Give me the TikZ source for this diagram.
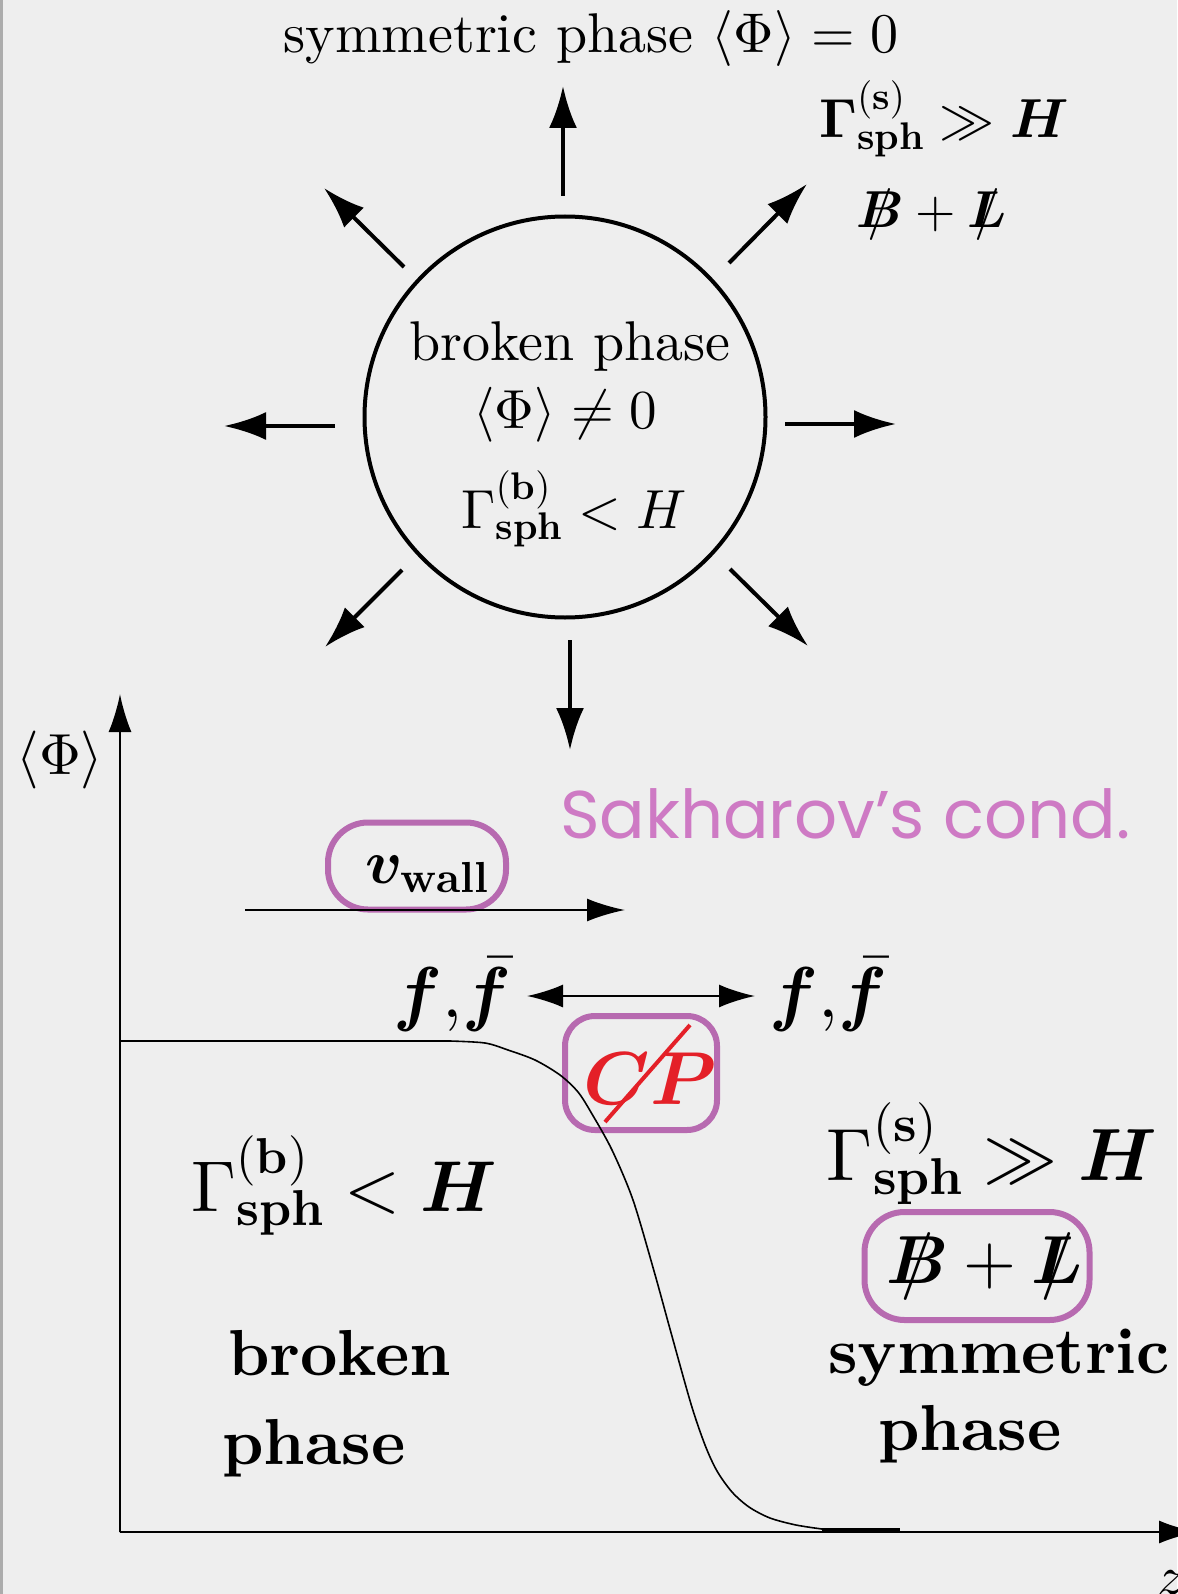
\RequirePackage{fix-cm}
\documentclass[tikz,border=0pt]{standalone}
\usepackage{amsmath,bm}
\usepackage{fontspec}
\setmainfont{lmroman10-regular.otf}[BoldFont=lmroman10-bold.otf, ItalicFont=lmroman10-italic.otf, BoldItalicFont=lmroman10-bolditalic.otf]
\newfontfamily\sakfont{Poppins}
\DeclareFontShape{OT1}{cmr}{m}{n}{<-> cmr10}{}
\DeclareFontShape{OT1}{cmr}{bx}{n}{<-> cmbx10}{}
\DeclareFontShape{OML}{cmm}{m}{it}{<-> cmmi10}{}
\DeclareFontShape{OML}{cmm}{b}{it}{<-> cmmib10}{}
\DeclareFontShape{OMS}{cmsy}{m}{n}{<-> cmsy10}{}
\usetikzlibrary{arrows.meta}
\definecolor{bgc}{RGB}{238,238,238}
\definecolor{pbox}{RGB}{183,106,176}
\definecolor{sakc}{RGB}{206,122,196}
\definecolor{cpred}{RGB}{228,32,40}
\newcommand{\fsz}[1]{\fontsize{#1}{#1}\selectfont}
\newcommand{\slsh}[1]{\mbox{\ooalign{$#1$\cr\hidewidth$/$\hidewidth\cr}}}
\begin{document}
\begin{tikzpicture}[x=1pt,y=-1pt,
  txt/.style={inner sep=0pt, anchor=base},
  bigarr/.style={line width=4pt, -{Latex[length=42pt,width=28pt]}},
  smarr/.style={line width=2.2pt, -{Latex[length=38pt,width=23pt]}},
  dblarr/.style={line width=2.2pt, {Latex[length=36pt,width=23pt]}-{Latex[length=36pt,width=23pt]}},
  pill/.style={draw=pbox, line width=6pt, rounded corners=#1, inner sep=0pt},
]
\useasboundingbox (0,0) rectangle (1177,1594);
\fill[bgc] (0,0) rectangle (1177,1594);
\fill[gray!65] (0,0) rectangle (3,1594);

% ---------- upper part: bubble ----------
\node[txt, font=\fsz{56}] (symtop) at (591,53) {symmetric phase $\langle\Phi\rangle=0$};
\node[txt, font=\fsz{55}] (gamtop) at (944,138) {$\boldsymbol{\Gamma}^{(\mathbf{s})}_{\mathbf{sph}}\gg \bm{H}$};
\node[txt, font=\fsz{52}] (bltop) at (932,228) {$\slsh{\bm{B}}+\slsh{\bm{L}}$};

\node[circle, draw, line width=4pt, minimum size=401pt, inner sep=0pt] (bub) at (565,417) {};
\node[txt, font=\fsz{56}] (bp) at (570,360) {broken phase};
\node[txt, font=\fsz{55}] (phin) at (565,428) {$\langle\Phi\rangle\neq 0$};
\node[txt, font=\fsz{55}] (gamb) at (574,528) {$\Gamma^{(\mathbf{b})}_{\mathbf{sph}}< H$};

\coordinate (sU) at (563,196);  \coordinate (tU) at (563,86);
\coordinate (sUL) at (404,267); \coordinate (tUL) at (324,188);
\coordinate (sUR) at (729,263); \coordinate (tUR) at (807,184);
\coordinate (sL) at (335,426);  \coordinate (tL) at (224,426);
\coordinate (sR) at (785,424);  \coordinate (tR) at (896,424);
\coordinate (sLL) at (402,570); \coordinate (tLL) at (325,647);
\coordinate (sLR) at (730,569); \coordinate (tLR) at (808,646);
\coordinate (sD) at (570,640);  \coordinate (tD) at (570,750);
\foreach \a in {U,UL,UR,L,R,LL,LR,D}{\draw[bigarr] (s\a) -- (t\a);}

% ---------- lower part: wall profile ----------
\coordinate (O) at (120,1532);
\coordinate (ytip) at (120,694);
\coordinate (xtip) at (1197,1532);
\draw[smarr] (O) -- (ytip);
\draw[smarr] (O) -- (xtip);
\node[inner sep=0pt, font=\fsz{58}] (phil) at (60,760) {$\langle\Phi\rangle$};
\node[txt, anchor=base west, font=\fsz{55}] (zl) at (1157,1594) {$z$};

\node[txt, anchor=base west, text=sakc] (sak) at (560,838) {\resizebox{570pt}{!}{\sakfont\fsz{80}Sakharov’s cond.}};

\node[pill=40pt, minimum width=178pt, minimum height=87pt] (vbox) at (417,866) {};
\node[txt, font=\fsz{62}] (vw) at (427,883) {$\bm{v}_{\mathbf{wall}}$};
\coordinate (vs) at (245,910); \coordinate (ve) at (625,910);
\draw[smarr] (vs) -- (ve);

\node[txt, font=\fsz{72}] (ffl) at (452,1017) {$\bm{f}{,}\bar{\bm{f}}$};
\node[txt, font=\fsz{72}] (ffr) at (828,1017) {$\bm{f}{,}\bar{\bm{f}}$};
\coordinate (das) at (527,996); \coordinate (dae) at (755,996);
\draw[dblarr] (das) -- (dae);

\node[pill=30pt, minimum width=152pt, minimum height=114pt] (cpbox) at (641,1073) {};
\node[txt, text=cpred, font=\fsz{75}] (cp) at (650,1104) {$\bm{CP}$};
\draw[cpred, line width=4pt] (605,1122) -- (690,1025);

\draw[line width=1.6pt] (O) -- (120,1041) -- (450,1041)
  plot[smooth, tension=0.5] coordinates {(450,1041) (485,1043) (508,1050) (535,1060) (560,1075) (578,1092) (592,1114) (612,1150) (633,1200) (654,1271) (670,1329) (691,1404) (705,1445) (717,1471) (732,1492) (749,1507) (770,1518) (796,1525) (822,1529)};
\draw[line width=4pt] (822,1530) -- (900,1530);

\node[txt, font=\fsz{72}] (gbl) at (344,1211) {$\Gamma^{(\mathbf{b})}_{\mathbf{sph}}< \bm{H}$};
\node[txt, anchor=base west, font=\fsz{65}\bfseries] (brk) at (228,1375) {broken};
\node[txt, anchor=base west, font=\fsz{65}\bfseries] (phl) at (222,1464) {phase};

\node[txt, font=\fsz{74}] (gsr) at (992,1180) {$\Gamma^{(\mathbf{s})}_{\mathbf{sph}}\gg \bm{H}$};
\node[pill=40pt, minimum width=225pt, minimum height=108pt] (blbox) at (977,1266) {};
\node[txt, font=\fsz{68}] (blr) at (985,1283) {$\slsh{\bm{B}}+\slsh{\bm{L}}$};
\node[txt, font=\fsz{65}\bfseries] (symr) at (999,1373) {symmetric};
\node[txt, font=\fsz{65}\bfseries] (phr) at (970,1450) {phase};
\end{tikzpicture}
\end{document}
